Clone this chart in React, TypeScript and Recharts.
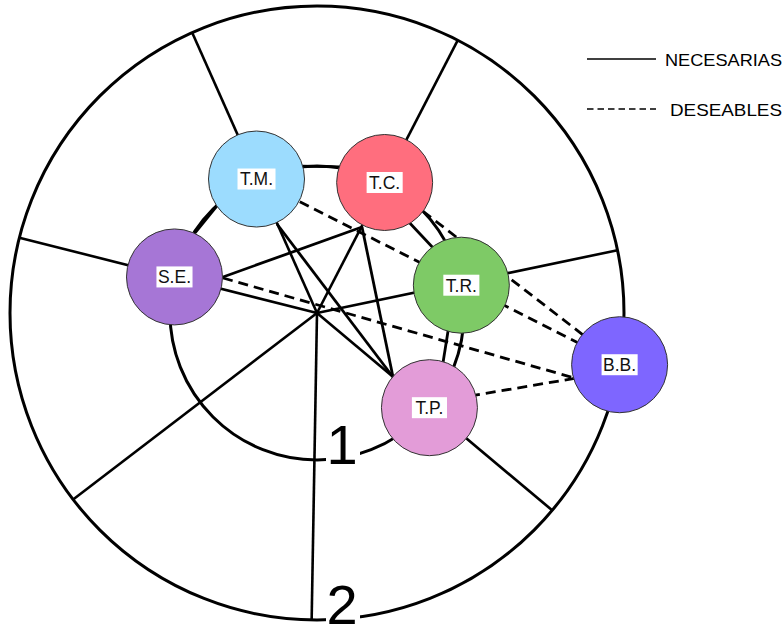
import { ScatterChart, Scatter, XAxis, YAxis } from 'recharts';

// rings of the diagram (1 = inner, 2 = outer), radius in diagram units
const RING_LABELS = ['1', '2'];
const RING_RADII = [147, 307];

// nodes: ring + angle (degrees, counter-clockwise from east)
const NODE_NAMES = ['T.M.', 'T.C.', 'S.E.', 'T.R.', 'T.P.', 'B.B.'];
const NODE_RING = [1, 1, 1, 1, 1, 2];
const NODE_ANGLES = [114.3, 62.6, 165.8, 10.9, -40.1, -9.7];

// radial dividers
const SPOKE_ANGLES = [114, 62.7, 165.8, 11.8, -40, -91, -142.6];

// relations, endpoints in diagram units (origin = centre, y up)
const NECESARIAS = [
  { from: 'T.M.', to: 'T.C.', a: [-15, 146.8], b: [23, 146.2] },
  { from: 'T.M.', to: 'S.E.', a: [-97, 111], b: [-127, 74] },
  { from: 'T.C.', to: 'T.R.', a: [89, 94], b: [119, 62] },
  { from: 'T.R.', to: 'T.P.', a: [132, -12], b: [125, -56] },
  { from: 'S.E.', to: 'T.C.', a: [-94, 36], b: [45, 86] },
  { from: 'T.M.', to: 'T.P.', a: [-40, 89], b: [76, -64] },
  { from: 'T.C.', to: 'T.P.', a: [45, 86], b: [76, -64] },
];
const DESEABLES = [
  { from: 'T.M.', to: 'B.B.', a: [-60, 133], b: [305, -52] },
  { from: 'T.C.', to: 'B.B.', a: [68, 131], b: [305, -52] },
  { from: 'S.E.', to: 'B.B.', a: [-94, 35], b: [261, -66] },
  { from: 'T.P.', to: 'B.B.', a: [153, -83], b: [260, -65] },
];

const NODE_COLORS = ['#9cdcfe', '#ff6e7e', '#a676d6', '#7eca66', '#e39cd8', '#7e66ff'];

const W = 784;
const H = 627;
const X_DOMAIN = [-317, 467];
const Y_DOMAIN = [-314, 313];
const UNIT = W / (X_DOMAIN[1] - X_DOMAIN[0]);
const FONT = '"Liberation Sans", Arial, sans-serif';

const polar = (r: number, deg: number) => ({
  x: r * Math.cos((deg * Math.PI) / 180),
  y: r * Math.sin((deg * Math.PI) / 180),
});

const nodeData = NODE_NAMES.map((name, i) => ({
  name,
  color: NODE_COLORS[i],
  ...polar(RING_RADII[NODE_RING[i] - 1], NODE_ANGLES[i]),
}));

const ringLabelData = RING_LABELS.map((label, i) => ({ label, x: 0, y: -RING_RADII[i] }));

const CHAR_W: Record<string, number> = { T: 0.611, '.': 0.278, M: 0.833, C: 0.722, S: 0.667, E: 0.667, R: 0.722, P: 0.667, B: 0.667 };
const textW = (s: string, fs: number) => s.split('').reduce((t, c) => t + (CHAR_W[c] || 0.6), 0) * fs;

const Empty = () => <g />;

const RingsShape = (p: any) => (
  <g>
    {RING_RADII.map((r, i) => (
      <circle key={i} cx={p.cx} cy={p.cy} r={r * UNIT} fill="none" stroke="#000" strokeWidth={3} />
    ))}
  </g>
);

const RingLabelShape = (p: any) => {
  const fs = 56;
  return (
    <g>
      <rect x={p.cx + 9} y={p.cy - 36} width={34} height={44} fill="#fff" />
      <text x={p.cx + 25} y={p.cy + 4} textAnchor="middle" fontSize={fs} fontFamily={FONT} fill="#000">
        {p.payload.label}
      </text>
    </g>
  );
};

const NodeShape = (p: any) => {
  const fs = 17.5;
  const w = textW(p.payload.name, fs) + 3;
  return (
    <g>
      <circle cx={p.cx} cy={p.cy} r={48 * UNIT} fill={p.payload.color} stroke="#333" strokeWidth={1} />
      <rect x={p.cx - w / 2} y={p.cy - 10.5} width={w} height={21} fill="#fff" />
      <text x={p.cx} y={p.cy + 6.3} textAnchor="middle" fontSize={fs} fontFamily={FONT} fill="#111">
        {p.payload.name}
      </text>
    </g>
  );
};

const toPts = (l: { a: number[]; b: number[] }) => [
  { x: l.a[0], y: l.a[1] },
  { x: l.b[0], y: l.b[1] },
];

export default function App() {
  return (
    <div style={{ position: 'absolute', left: 0, top: 0, width: W, height: H, background: '#fff' }}>
      <ScatterChart width={W} height={H} margin={{ top: 0, right: 0, bottom: 0, left: 0 }}>
        <XAxis type="number" dataKey="x" domain={X_DOMAIN} allowDataOverflow hide />
        <YAxis type="number" dataKey="y" domain={Y_DOMAIN} allowDataOverflow hide />
        <Scatter data={[{ x: 0, y: 0 }]} shape={RingsShape} isAnimationActive={false} />
        {SPOKE_ANGLES.map((ang, i) => (
          <Scatter
            key={'spoke' + i}
            data={[{ x: 0, y: 0 }, polar(RING_RADII[1], ang)]}
            line={{ stroke: '#000', strokeWidth: 2.6 }}
            shape={Empty}
            isAnimationActive={false}
          />
        ))}
        {NECESARIAS.map((l, i) => (
          <Scatter
            key={'nec' + i}
            data={toPts(l)}
            line={{ stroke: '#000', strokeWidth: 2.8 }}
            shape={Empty}
            isAnimationActive={false}
          />
        ))}
        {DESEABLES.map((l, i) => (
          <Scatter
            key={'des' + i}
            data={toPts(l)}
            line={{ stroke: '#000', strokeWidth: 2.8, strokeDasharray: '10 6' }}
            shape={Empty}
            isAnimationActive={false}
          />
        ))}
        <Scatter data={ringLabelData} shape={RingLabelShape} isAnimationActive={false} />
        <Scatter data={nodeData} shape={NodeShape} isAnimationActive={false} />
      </ScatterChart>
      <svg width={W} height={H} style={{ position: 'absolute', left: 0, top: 0, pointerEvents: 'none' }}>
        <line x1={587} y1={59} x2={656} y2={59} stroke="#000" strokeWidth={1.5} />
        <text x={665} y={66} textLength={117} lengthAdjust="spacingAndGlyphs" fontSize={17} fontFamily={FONT} fill="#000">NECESARIAS</text>
        <line x1={587} y1={109} x2={656} y2={109} stroke="#000" strokeWidth={1.5} strokeDasharray="6.5 4" />
        <text x={670} y={116} textLength={112} lengthAdjust="spacingAndGlyphs" fontSize={17} fontFamily={FONT} fill="#000">DESEABLES</text>
      </svg>
    </div>
  );
}
